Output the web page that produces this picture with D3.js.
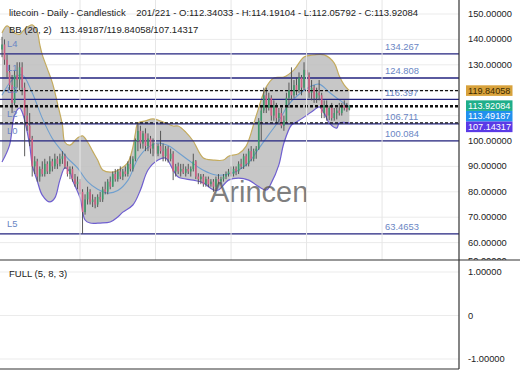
<!DOCTYPE html>
<html><head><meta charset="utf-8">
<script src="https://cdn.jsdelivr.net/npm/d3@7"></script>
<style>html,body{margin:0;padding:0;background:#fff;}svg{display:block;font-family:"Liberation Sans",Arial,sans-serif;}</style>
</head><body><div id="chart"></div>
<script>
// ---- data ----
const opens  = [136,138,132,127,122,115,126,124,129,121,110,106,101,90,92,86,89,87,91,88,92,90,93,91,93,94,90,87,89,85,83,84,80,72,77,80,76,77,75,78,77,81,80,84,82,87,85,88,86,88,87,91,89,93,100,104,99,103,98,101,97,99,95,98,96,94,97,93,95,88,90,88,89,87.5,89,88,89,92,86,85,86,83,85,83,84,82,85,84,85,86,87,88,87,89,88,91,90,94,91,96,93,96,97,108,112,118,113,117,110,114,109,111,106,108,117,120,118,122,120,125,121,128,126,119,121,117,119,118,111,114,110,113,109,111,112,111,114,113,112.34033];
const highs  = [141,140,134,130,126,128,131,131,131,123,114,111,102,94,93,90,92,93,92,94,93,95,94,95,96,95,92,90,90,87,86,85,81,79,82,81,79,78,79,80,82,84,85,86,88,89,89,90,89,90,92,94,94,101,107,106,104,105,103,102,101,100,99,104,99,98,98,97,96,91,91.5,91,91,90,91,90,95,92.5,87.3,87,87,86,86,85,85,86,87,86,87,88,89,90,90,90,92,93,95,95,97,98,97,98,109,114,121,121,119,118,116,115,113,113,110,119,123,129,124,125,127,126,131,134.6,127,124,122,121,124,119,116,116,114,115,113,113,115,115,116,115,114.19104];
const lows   = [133,130,125,120,111,114,121,120,118,94,104,98,86,87,84,84,86,86,87,87,88,89,89,90,91,89,86,85,84,82,81,79,63.5,71,75,75,74,73.5,74,76,76,79,79,81,82,84,84,85,84.6,86,86,88,88,92,96,97,97,96,96,95,94,93.6,94,95,92,92,91.5,92,84.6,86,87,86,87,86,87,86,88,85,83,83,82,82,81.8,82,80,81,83,83,84,85,86,86,86,86.5,87,89,89,90,90,92,92,93,96.5,100,111,111,112,108,108,107,107,105,104,107,113,116,117,118,119,118,120,124,117,116,115,115,116,109,109,108,108.2,108,108,108.5,110,110,112,111.5,112.05792];
const closes = [138,132,127,122,115,126,124,129,121,110,106,101,90,92,86,89,87,91,88,92,90,93,91,93,94,90,87,89,85,83,84,80,72,77,80,76,77,75,78,77,81,80,84,82,87,85,88,86,88,87,91,89,93,100,104,99,103,98,101,97,99,95,98,96,94,97,93,95,88,90,88,89,87.5,89,88,89,92,86,85,86,83,85,83,84,82,85,84,85,86,87,88,87,89,88,91,90,94,91,96,93,96,97,108,112,118,113,117,110,114,109,111,106,108,117,120,118,122,120,125,121,128,126,119,121,117,119,118,111,114,110,113,109,111,112,111,114,113,112.34033,113.92084];

const upperIdx = [0,2,5,7,9,12,14,15,16,18,20,22,24,25,27,30,32,34,36,38,40,44,47,50,52,53,54,57,60,64,68,70,73,76,80,84,88,90,94,97,101,105,108,112,116,120,124,128,132,134,136,138];
const upperVal = [142.5,145.3,142.5,142,144,145.7,143,138,134,128.5,123,115,106.3,99.5,98.4,101.2,102,99.6,96,92.5,88.6,87.8,89,91.5,97.6,103,107,107.9,108.7,107.5,105.9,105.9,103.5,99.9,93.3,92.5,92.5,94,95,98,110,121.3,124.8,125.2,128,133.1,133.9,133.9,130.7,125.6,122,119.84058];
const lowerIdx = [0,3,5,7,8,11,12,14,16,19,21,23,25,27,28,31,33,35,39,43,46,48,52,55,58,62,65,68,70,76,80,84,86,90,94,98,101,105,107,110,112,115,117,120,124,126,128,130,133,134,138];
const lowerVal = [91.7,98.4,110.2,113,111.4,98.4,90.6,84.3,78.7,76,77.6,84.6,89.4,87.8,84.6,77.6,68.9,67.7,67.7,68.1,70.1,72,74.8,80.7,88.6,92.5,93.3,88.6,85.8,84.6,83.5,80.7,80.7,84.6,85.4,84.6,82.7,80.7,83.5,90.6,99.2,106.3,107.5,109.4,112.2,113.4,111,107.1,105.1,107.1,107.14317];
const midIdx = [0,4,8,12,16,20,23,26,30,34,38,42,46,50,54,58,62,66,70,74,80,85,90,94,98,102,106,110,114,118,122,126,130,134,138];
const midVal = [118,124,126,119,109,101,97,93.3,89.4,84,81,79.5,80.5,84.5,93,97.5,99.2,98.2,95.5,92.5,88.5,86.6,87,88.5,91.5,97,102.5,108,114.5,118.4,121.2,122.4,119.2,116.2,113.49187];

const priceTicks = [50,60,70,80,90,100,110,120,130,140,150];
const oscTicks = [1,0,-1];
const oscTickLabels = ["1.00000","0","-1.00000"];
const gridIdx = [31,61,91,121,151];
const levelVals = [134.267,124.808,116.397,106.711,100.084,63.4653];
const levelText = ["134.267","124.808","116.397","106.711","100.084","63.4653"];
const levelNames = ["L4","L1","L3","L2","L0","L5"];
const tagVals = [119.84058,113.92084,113.49187,107.14317];
const tagText = ["119.84058","113.92084","113.49187","107.14317"];
const tagColors = ["#d8a23c","#1fae8a","#2190ee","#5a3ae6"];
const tagTextColors = ["#3a2a00","#ffffff","#ffffff","#ffffff"];
const title1 = "litecoin - Daily - Candlestick    201/221 - O:112.34033 - H:114.19104 - L:112.05792 - C:113.92084";
const title2 = "BB (20, 2)   113.49187/119.84058/107.14317";
const oscTitle = "FULL (5, 8, 3)";
const watermark = "Arincen";

// ---- drawing ----
const W = 520, H = 390, PR = 459, MB = 260, LB = 369;
const svg = d3.select("#chart").append("svg").attr("width", W).attr("height", H);
const x = d3.scaleLinear().domain([0, 182]).range([2, 2 + 182 * 2.517]);
const y = d3.scaleLinear().domain([50, 150]).range([268, 14]);
const yo = d3.scaleLinear().domain([-1, 1]).range([359, 272]);

const defs = svg.append("defs");
defs.append("clipPath").attr("id", "mainclip").append("rect").attr("x", 0).attr("y", 0).attr("width", PR).attr("height", MB);
defs.append("clipPath").attr("id", "axclip").append("rect").attr("x", PR).attr("y", 0).attr("width", W - PR).attr("height", MB);

const main = svg.append("g").attr("clip-path", "url(#mainclip)");
// grid
main.selectAll(".hg").data(priceTicks).join("line")
  .attr("x1", 0).attr("x2", PR).attr("y1", d => y(d)).attr("y2", d => y(d))
  .attr("stroke", "#ebebeb").attr("stroke-width", 1);
svg.selectAll(".vg").data(gridIdx).join("line")
  .attr("x1", d => x(d)).attr("x2", d => x(d)).attr("y1", 0).attr("y2", MB)
  .attr("stroke", "#e6e6e6").attr("stroke-width", 1);
svg.selectAll(".og").data(oscTicks).join("line")
  .attr("x1", 0).attr("x2", PR).attr("y1", d => yo(d)).attr("y2", d => yo(d))
  .attr("stroke", "#ebebeb").attr("stroke-width", 1);

// bollinger band
const up = upperIdx.map((d, i) => [x(d), y(upperVal[i])]);
const lo = lowerIdx.map((d, i) => [x(d), y(lowerVal[i])]);
const md = midIdx.map((d, i) => [x(d), y(midVal[i])]);
const ln = d3.line().curve(d3.curveCatmullRom.alpha(0.5));
const areaPath = ln(up) + "L" + ln(lo.slice().reverse()).slice(1) + "Z";
main.append("path").attr("d", areaPath).attr("fill", "#bdbdbd").attr("fill-opacity", 0.85);
main.append("path").attr("d", ln(up)).attr("fill", "none").attr("stroke", "#c4ab5e").attr("stroke-width", 1.2);
main.append("path").attr("d", ln(lo)).attr("fill", "none").attr("stroke", "#6f5fd0").attr("stroke-width", 1.2);
main.append("path").attr("d", ln(md)).attr("fill", "none").attr("stroke", "#6f9fcf").attr("stroke-width", 1.1);

// level lines
main.selectAll(".lvl").data(levelVals).join("line")
  .attr("x1", 0).attr("x2", PR).attr("y1", d => y(d)).attr("y2", d => y(d))
  .attr("stroke", "#23237f").attr("stroke-width", 1.3);

// candles
const idx = d3.range(closes.length);
main.selectAll(".wick").data(idx).join("line")
  .attr("x1", i => x(i)).attr("x2", i => x(i))
  .attr("y1", i => y(highs[i])).attr("y2", i => y(lows[i]))
  .attr("stroke", "#4a4a4a").attr("stroke-width", 0.9);
main.selectAll(".body").data(idx).join("rect")
  .attr("x", i => x(i) - 0.8).attr("width", 1.6)
  .attr("y", i => y(Math.max(opens[i], closes[i])))
  .attr("height", i => Math.max(0.8, Math.abs(y(opens[i]) - y(closes[i]))))
  .attr("fill", i => closes[i] >= opens[i] ? "#3f9a6c" : "#cf5f83");

// dashed lines
main.selectAll(".dash").data(tagVals).join("line")
  .attr("x1", 0).attr("x2", PR).attr("y1", d => y(d)).attr("y2", d => y(d))
  .attr("stroke", "#111").attr("stroke-width", 1.3).attr("stroke-dasharray", "3,2");

// level labels
main.selectAll(".lvt").data(levelVals).join("text")
  .attr("x", 385).attr("y", d => y(d) - 7).attr("dy", "0.35em")
  .attr("font-size", 9.4).attr("fill", "#6a86c4")
  .text((d, i) => levelText[i]);
main.selectAll(".lvn").data(levelVals).join("text")
  .attr("x", 7).attr("y", d => y(d) - 10).attr("dy", "0.35em")
  .attr("font-size", 9.4).attr("fill", "#6a86c4")
  .text((d, i) => levelNames[i]);

// watermark
main.append("text").attr("x", 210).attr("y", 202).attr("font-size", 29)
  .attr("fill", "#555").attr("fill-opacity", 0.75).text(watermark);

// titles
svg.append("text").attr("x", 9).attr("y", 12.5).attr("dy", "0.35em").attr("font-size", 9.5).attr("fill", "#222").style("white-space", "pre").text(title1);
svg.append("text").attr("x", 9).attr("y", 29.5).attr("dy", "0.35em").attr("font-size", 9.5).attr("fill", "#222").style("white-space", "pre").text(title2);
svg.append("text").attr("x", 9).attr("y", 273.5).attr("dy", "0.35em").attr("font-size", 9.5).attr("fill", "#222").text(oscTitle);

// price tags (stacked so they do not overlap)
let prevBottom = -Infinity;
const th = 10.6;
const tagBoxes = [];
tagVals.forEach((v, i) => {
  let top = y(v) - th / 2;
  if (top < prevBottom) top = prevBottom;
  prevBottom = top + th;
  tagBoxes.push([top, top + th]);
});

// price axis (labels hidden where the tags cover them)
const axG = svg.append("g").attr("clip-path", "url(#axclip)");
const shownTicks = priceTicks.filter(t => !tagBoxes.some(b => y(t) > b[0] - 6 && y(t) < b[1] + 6));
const yAxis = d3.axisRight(y).tickValues(shownTicks).tickFormat(d => d.toFixed(5)).tickSize(0).tickPadding(9);
const ag = axG.append("g").attr("transform", `translate(${PR},0)`).call(yAxis);
ag.select(".domain").remove();
ag.selectAll("text").attr("font-size", 9.3).attr("fill", "#222").attr("font-family", "Liberation Sans, Arial, sans-serif");
ag.selectAll(".tick").attr("transform", d => `translate(0,${Math.min(y(d), 261.5)})`);

tagVals.forEach((v, i) => {
  const top = tagBoxes[i][0];
  svg.append("rect").attr("x", 466).attr("y", top).attr("width", 46.5).attr("height", th).attr("fill", tagColors[i]);
  svg.append("text").attr("x", 468).attr("y", top + th / 2).attr("dy", "0.35em").attr("font-size", 9.1)
    .attr("fill", tagTextColors[i]).text(tagText[i]);
});

// oscillator axis
const oAxis = d3.axisRight(yo).tickValues(oscTicks).tickFormat((d, i) => oscTickLabels[i]).tickSize(0).tickPadding(9);
const og = svg.append("g").attr("transform", `translate(${PR},0)`).call(oAxis);
og.select(".domain").remove();
og.selectAll("text").attr("font-size", 9.3).attr("fill", "#222").attr("font-family", "Liberation Sans, Arial, sans-serif");

// borders
svg.append("line").attr("x1", PR).attr("x2", PR).attr("y1", 0).attr("y2", LB).attr("stroke", "#333").attr("stroke-width", 1.2);
svg.append("line").attr("x1", 0).attr("x2", W).attr("y1", MB).attr("y2", MB).attr("stroke", "#333").attr("stroke-width", 1.2);
svg.append("line").attr("x1", 0).attr("x2", PR).attr("y1", LB).attr("y2", LB).attr("stroke", "#333").attr("stroke-width", 1.2);
</script>
</body></html>
